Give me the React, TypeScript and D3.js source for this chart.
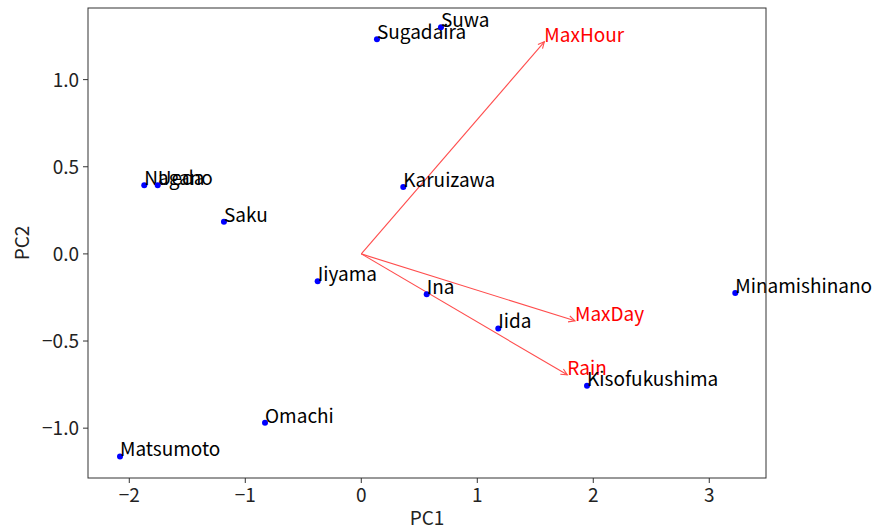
import React from "react";
import * as d3 from "d3";

// PCA scores of each station on the first two components
const stations = [
  "Nagano", "Ueda", "Saku", "Karuizawa", "Sugadaira", "Suwa", "Iiyama",
  "Ina", "Iida", "Kisofukushima", "Omachi", "Matsumoto", "Minamishinano",
];
const pc1 = [-1.871, -1.755, -1.184, 0.362, 0.135, 0.687, -0.376, 0.564, 1.181, 1.946, -0.83, -2.08, 3.224];
const pc2 = [0.394, 0.394, 0.185, 0.384, 1.231, 1.301, -0.157, -0.231, -0.428, -0.757, -0.969, -1.162, -0.225];

// Variable loadings drawn as arrows from the origin
const variables = ["MaxHour", "MaxDay", "Rain"];
const loadX = [1.578, 1.842, 1.776];
const loadY = [1.217, -0.384, -0.694];

const xTicks = [-2, -1, 0, 1, 2, 3];
const yTicks = [-1.0, -0.5, 0.0, 0.5, 1.0];

const W = 883;
const H = 529;
const M = { left: 88, right: 766, top: 8, bottom: 478 };
const FONT = "'Noto Sans CJK JP', 'Noto Sans', sans-serif";

export default function App() {
  const x = d3.scaleLinear().domain([-2.356, 3.489]).range([M.left, M.right]);
  const y = d3.scaleLinear().domain([-1.286, 1.411]).range([M.bottom, M.top]);
  const fmtY = (v: number) => (v < 0 ? "\u2212" : "") + Math.abs(v).toFixed(1);
  const fmtX = (v: number) => (v < 0 ? "\u2212" : "") + Math.abs(v).toString();

  const arrowHead = (x0: number, y0: number, x1: number, y1: number) => {
    const a = Math.atan2(y1 - y0, x1 - x0);
    const len = 7;
    const spread = 0.45;
    const p1 = [x1 - len * Math.cos(a - spread), y1 - len * Math.sin(a - spread)];
    const p2 = [x1 - len * Math.cos(a + spread), y1 - len * Math.sin(a + spread)];
    return `M${p1[0]},${p1[1]}L${x1},${y1}L${p2[0]},${p2[1]}`;
  };

  return (
    <svg
      width={W}
      height={H}
      style={{ position: "absolute", left: 0, top: 0, background: "#fff" }}
      fontFamily={FONT}
    >
      {/* loading arrows */}
      {variables.map((v, i) => {
        const x0 = x(0), y0 = y(0), x1 = x(loadX[i]), y1 = y(loadY[i]);
        return (
          <g key={v}>
            <line x1={x0} y1={y0} x2={x1} y2={y1} stroke="#ff4d4d" strokeWidth={1.1} />
            <path d={arrowHead(x0, y0, x1, y1)} fill="none" stroke="#ff4d4d" strokeWidth={1.1} />
            <text x={x1} y={y1} fill="#ff0000" fontSize={19}>{v}</text>
          </g>
        );
      })}

      {/* station scores */}
      {stations.map((s, i) => (
        <g key={s}>
          <circle cx={x(pc1[i])} cy={y(pc2[i])} r={3} fill="#0000ff" />
          <text x={x(pc1[i])} y={y(pc2[i])} fill="#000" fontSize={19}>{s}</text>
        </g>
      ))}

      {/* frame */}
      <rect
        x={M.left}
        y={M.top}
        width={M.right - M.left}
        height={M.bottom - M.top}
        fill="none"
        stroke="#333"
        strokeWidth={1}
      />

      {/* x axis */}
      {xTicks.map((t) => (
        <g key={t}>
          <line x1={x(t)} x2={x(t)} y1={M.bottom} y2={M.bottom + 5} stroke="#333" />
          <text x={x(t)} y={502} textAnchor="middle" fontSize={19} fill="#222">{fmtX(t)}</text>
        </g>
      ))}
      <text x={(M.left + M.right) / 2} y={525} textAnchor="middle" fontSize={19} fill="#222">PC1</text>

      {/* y axis */}
      {yTicks.map((t) => (
        <g key={t}>
          <line x1={M.left - 5} x2={M.left} y1={y(t)} y2={y(t)} stroke="#333" />
          <text x={79} y={y(t) + 7} textAnchor="end" fontSize={19} fill="#222">{fmtY(t)}</text>
        </g>
      ))}
      <text
        transform={`translate(29,${(M.top + M.bottom) / 2}) rotate(-90)`}
        textAnchor="middle"
        fontSize={19}
        fill="#222"
      >
        PC2
      </text>
    </svg>
  );
}
